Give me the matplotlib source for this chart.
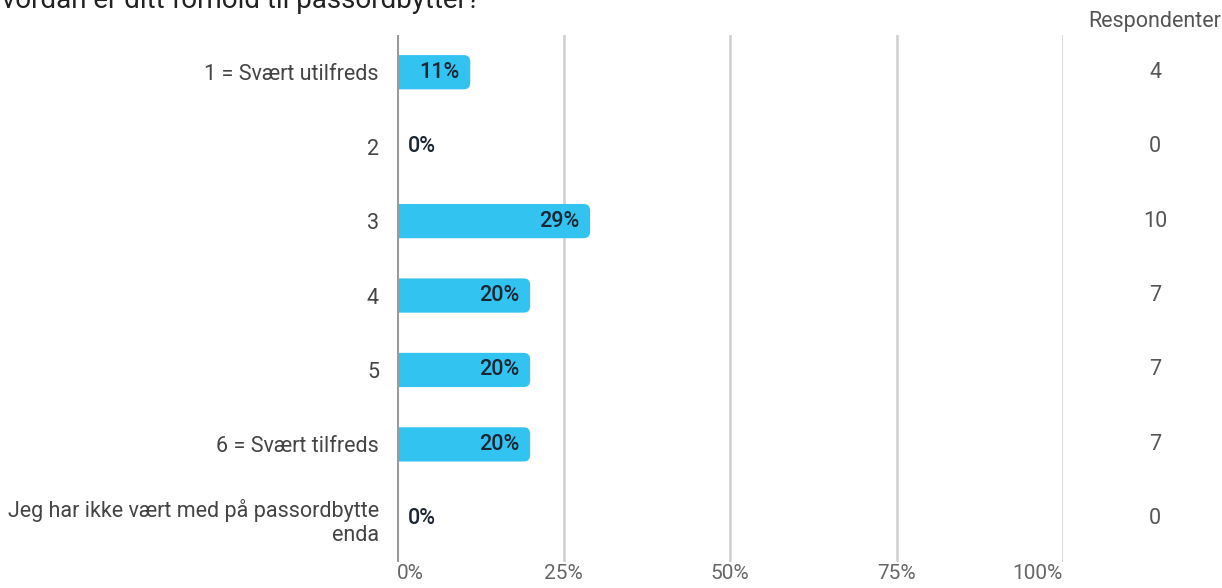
import matplotlib.pyplot as plt
from matplotlib.patches import FancyBboxPatch

categories = [
    "1 = Svært utilfreds",
    "2",
    "3",
    "4",
    "5",
    "6 = Svært tilfreds",
    "Jeg har ikke vært med på passordbytte\nenda",
]
percent = [11, 0, 29, 20, 20, 20, 0]
respondents = [4, 0, 10, 7, 7, 7, 0]
x_ticks = [0, 25, 50, 75, 100]
x_ticklabels = ["0%", "25%", "50%", "75%", "100%"]
title = "Hvordan er ditt forhold til passordbytter?"

BAR_COLOR = "#33c3f1"
GRID_COLOR = "#cfcfcf"
AXIS_COLOR = "#9a9a9a"
LABEL_COLOR = "#444444"
VALUE_COLOR = "#1b2633"
FS = 15.5

plt.rcParams["font.family"] = ["Roboto", "DejaVu Sans"]

W, H = 1222, 588
fig = plt.figure(figsize=(W / 100, H / 100), dpi=100)
ax = fig.add_axes([397 / W, 1 - 562 / H, (1063 - 397) / W, (562 - 35) / H])

n = len(categories)
ys = list(range(n))
ax.set_xlim(0, 100)
ax.set_ylim(n - 0.42, -0.5)

for t in x_ticks[1:]:
    ax.axvline(t, color=GRID_COLOR, lw=1.8, zorder=0)
ax.axvline(0, color=AXIS_COLOR, lw=2.2, zorder=3)

bar_h = 0.46
bars = ax.barh(ys, percent, height=bar_h, color=BAR_COLOR, visible=False)

# rounded bar ends; the box starts left of x=0 so the axes clip
# hides the left-hand rounding and leaves a flat edge on the axis
px_x = (1063 - 397) / 100
px_y = (562 - 35) / (n - 0.42 + 0.5)
aspect = px_x / px_y
r = 1.0
for b in bars:
    w = b.get_width()
    if w <= 0:
        continue
    ax.add_patch(FancyBboxPatch((-3 * r, b.get_y()), w + 3 * r, bar_h,
                                boxstyle=f"round,pad=0,rounding_size={r}",
                                mutation_aspect=aspect,
                                facecolor=BAR_COLOR, edgecolor="none", zorder=2))

for y, v in zip(ys, percent):
    if v > 0:
        ax.text(v - 1.65, y, f"{v}%", ha="right", va="center", fontsize=FS,
                fontweight="medium", color=VALUE_COLOR, zorder=4)
    else:
        ax.text(1.65, y, f"{v}%", ha="left", va="center", fontsize=FS,
                fontweight="medium", color=VALUE_COLOR, zorder=4)

ax.set_yticks(ys)
ax.set_yticklabels(categories, fontsize=FS, color=LABEL_COLOR,
                   linespacing=1.16)
ax.set_xticks(x_ticks)
ax.set_xticklabels(x_ticklabels, fontsize=FS - 0.5, color="#666666")
ax.tick_params(axis="y", length=0, pad=13)
ax.tick_params(axis="x", length=0, pad=1.5)
xl = ax.get_xticklabels()
xl[0].set_horizontalalignment("left")
xl[-1].set_horizontalalignment("right")
for s in ax.spines.values():
    s.set_visible(False)

# respondent counts column
for y, cnt in zip(ys, respondents):
    ax.annotate(str(cnt), xy=(1155 / W, y), xycoords=("figure fraction", "data"),
                ha="center", va="center", fontsize=FS, color="#555555")
fig.text(1155 / W, 1 - 22 / H, "Respondenter", ha="center", va="center",
         fontsize=FS, color="#555555")

fig.text(-18 / W, 1 - 8.5 / H, title, ha="left", va="baseline",
         fontsize=20, color="#222222")

fig.savefig("out.png", dpi=100)
